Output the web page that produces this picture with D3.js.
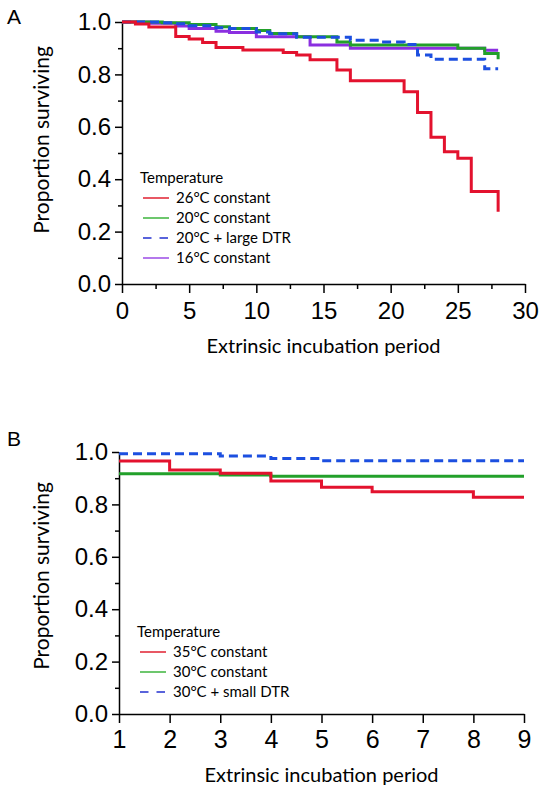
<!DOCTYPE html>
<html><head><meta charset="utf-8">
<script src="https://cdn.jsdelivr.net/npm/d3@7"></script>
<style>body{margin:0;background:#fff}svg{display:block}</style>
</head><body>
<svg id="c" width="543" height="793"></svg>
<script>
// ---------- Panel A data ----------
const xTicksA = [0, 5, 10, 15, 20, 25, 30];
const yTicks = [0, 0.2, 0.4, 0.6, 0.8, 1.0];
const legendTitle = "Temperature";
const seriesNamesA = ["26°C constant", "20°C constant", "20°C + large DTR", "16°C constant"];
const red26T = [0, 1, 2, 4, 5, 6, 7, 9, 12, 13, 14, 16, 17, 21, 22, 23, 24, 25, 26, 28];
const red26S = [1.0, 0.992, 0.981, 0.945, 0.935, 0.922, 0.903, 0.893, 0.884, 0.874, 0.856, 0.817, 0.776, 0.734, 0.655, 0.56, 0.505, 0.48, 0.353, 0.276];
const green20T = [0, 3, 5, 7, 8, 10, 11, 13, 16, 17, 25, 27, 28];
const green20S = [1.0, 0.997, 0.99, 0.982, 0.975, 0.968, 0.956, 0.944, 0.924, 0.912, 0.9, 0.88, 0.858];
const blueDTRT = [0, 3, 4, 5, 7, 8, 10, 11, 13, 17, 19, 21, 22, 23, 27, 28];
const blueDTRS = [1.0, 0.997, 0.993, 0.986, 0.978, 0.975, 0.962, 0.955, 0.942, 0.93, 0.924, 0.914, 0.874, 0.858, 0.822, 0.822];
const purple16T = [0, 2, 4, 5, 7, 8, 10, 14, 17, 27, 28];
const purple16S = [1.0, 0.995, 0.985, 0.975, 0.965, 0.96, 0.944, 0.912, 0.9, 0.892, 0.892];

// ---------- Panel B data ----------
const xTicksB = [1, 2, 3, 4, 5, 6, 7, 8, 9];
const seriesNamesB = ["35°C constant", "30°C constant", "30°C + small DTR"];
const red35T = [1, 2, 3, 4, 5, 6, 8, 9];
const red35S = [0.966, 0.931, 0.919, 0.889, 0.865, 0.848, 0.827, 0.827];
const green30T = [1, 3, 4, 9];
const green30S = [0.917, 0.912, 0.907, 0.907];
const blueSmallT = [1, 3, 4, 5, 9];
const blueSmallS = [0.993, 0.985, 0.975, 0.967, 0.967];

const axisTitleX = "Extrinsic incubation period";
const axisTitleY = "Proportion surviving";

const RED = "#e3122e", GREEN = "#22a02a", BLUE = "#1c4fe0", PURPLE = "#8b2fe0";
const TICKFONT = "'Liberation Sans', Arial, sans-serif";
const LABFONT = "Lato, 'Open Sans', sans-serif";

const svg = d3.select("#c");

function panel(opts) {
  const g = svg.append("g");
  const x = d3.scaleLinear().domain(opts.xDomain).range(opts.xRange);
  const y = d3.scaleLinear().domain([0, 1]).range(opts.yRange);

  // minor y ticks
  const yMinor = d3.range(0.1, 1.0, 0.2);
  g.append("g").attr("transform", `translate(${opts.xRange[0]},0)`)
    .call(d3.axisLeft(y).tickValues(yMinor).tickSize(4).tickFormat(""))
    .call(a => a.select(".domain").remove())
    .call(a => a.selectAll("line").attr("stroke-width", 1.5));
  // y axis
  g.append("g").attr("transform", `translate(${opts.xRange[0]},0)`)
    .call(d3.axisLeft(y).tickValues(yTicks).tickSize(7).tickSizeOuter(0).tickPadding(4).tickFormat(d3.format(".1f")))
    .call(a => a.select(".domain").attr("stroke-width", 1.5))
    .call(a => a.selectAll("line").attr("stroke-width", 1.5))
    .call(a => a.selectAll("text").attr("font-family", TICKFONT).attr("font-size", 24).attr("fill", "#000"));
  // minor x ticks
  if (opts.xMinor) {
    g.append("g").attr("transform", `translate(0,${opts.yRange[0]})`)
      .call(d3.axisBottom(x).tickValues(opts.xMinor).tickSize(5).tickFormat(""))
      .call(a => a.select(".domain").remove())
      .call(a => a.selectAll("line").attr("stroke-width", 1.5));
  }
  // x axis
  g.append("g").attr("transform", `translate(0,${opts.yRange[0]})`)
    .call(d3.axisBottom(x).tickValues(opts.xTicks).tickSize(9).tickSizeOuter(0).tickPadding(opts.xPad).tickFormat(d3.format("d")))
    .call(a => a.select(".domain").attr("stroke-width", 1.5))
    .call(a => a.selectAll("line").attr("stroke-width", 1.5))
    .call(a => a.selectAll("text").attr("font-family", TICKFONT).attr("font-size", opts.xFont).attr("fill", "#000"));

  // curves
  const line = d3.line().x(d => x(d[0])).y(d => y(d[1])).curve(d3.curveStepAfter);
  opts.series.forEach(s => {
    const pts = s.t.map((t, i) => [t, s.s[i]]);
    g.append("path").attr("d", line(pts)).attr("fill", "none")
      .attr("stroke", s.color).attr("stroke-width", 3)
      .attr("stroke-dasharray", s.dash ? "9,5" : null);
  });

  // axis titles
  g.append("text").attr("x", (opts.xRange[0] + opts.xRange[1]) / 2).attr("y", opts.xTitleY)
    .attr("text-anchor", "middle").attr("font-family", LABFONT).attr("font-size", 20).text(axisTitleX);
  g.append("text").attr("transform", `translate(49,${opts.yTitleC}) rotate(-90)`)
    .attr("text-anchor", "middle").attr("font-family", LABFONT).attr("font-size", 21).text(axisTitleY);
  // panel label
  g.append("text").attr("x", 7).attr("y", opts.labelY).attr("font-family", TICKFONT)
    .attr("font-size", 21).text(opts.label);

  // legend
  const L = opts.legend;
  g.append("text").attr("x", L.x).attr("y", L.y).attr("font-family", LABFONT).attr("font-size", 15).text(legendTitle);
  opts.series.slice().sort((a, b) => a.li - b.li).forEach((s, i) => {
    const by = L.y + 20 * (i + 1);
    g.append("line").attr("x1", L.x + 3).attr("x2", L.x + 29).attr("y1", by - 5).attr("y2", by - 5)
      .attr("stroke", s.legColor || s.color).attr("stroke-width", 1.5)
      .attr("stroke-dasharray", s.dash ? "8.5,8" : null);
    g.append("text").attr("x", L.x + 36).attr("y", by).attr("font-family", LABFONT).attr("font-size", 15).text(s.name);
  });
}

panel({
  xDomain: [0, 30], xRange: [122, 525], yRange: [284, 22],
  xTicks: xTicksA, xMinor: d3.range(2.5, 30, 5), xPad: 9, xFont: 24,
  xTitleY: 353, yTitleC: 140, label: "A", labelY: 24,
  legend: { x: 140, y: 183 },
  series: [
    { t: purple16T, s: purple16S, color: PURPLE, name: seriesNamesA[3], li: 3, legColor: "#9b4be6" },
    { t: green20T, s: green20S, color: GREEN, name: seriesNamesA[1], li: 1, legColor: "#3cb43c" },
    { t: blueDTRT, s: blueDTRS, color: BLUE, dash: true, name: seriesNamesA[2], li: 2, legColor: "#2330d0" },
    { t: red26T, s: red26S, color: RED, name: seriesNamesA[0], li: 0, legColor: "#e02030" }
  ]
});

panel({
  xDomain: [1, 9], xRange: [119, 524], yRange: [714, 452],
  xTicks: xTicksB, xMinor: null, xPad: 7, xFont: 25,
  xTitleY: 782, yTitleC: 576, label: "B", labelY: 446,
  legend: { x: 137, y: 637 },
  series: [
    { t: green30T, s: green30S, color: GREEN, name: seriesNamesB[1], li: 1, legColor: "#3cb43c" },
    { t: blueSmallT, s: blueSmallS, color: BLUE, dash: true, name: seriesNamesB[2], li: 2, legColor: "#2330d0" },
    { t: red35T, s: red35S, color: RED, name: seriesNamesB[0], li: 0, legColor: "#e02030" }
  ]
});
</script>
</body></html>
